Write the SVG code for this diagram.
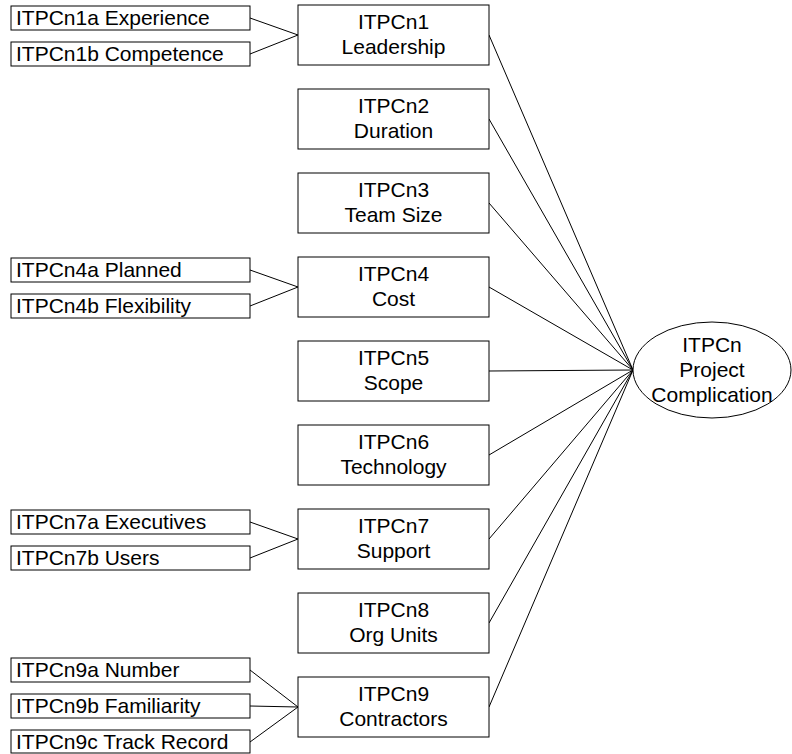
<svg xmlns="http://www.w3.org/2000/svg" width="792" height="754" viewBox="0 0 792 754">
<style>
rect{fill:#fff;stroke:#000;stroke-width:1}
ellipse{fill:#fff;stroke:#000;stroke-width:1}
line{stroke:#000;stroke-width:1}
text{font-family:"Liberation Sans",Arial,sans-serif;font-size:21px;fill:#000}
.c{text-anchor:middle}
</style>
<rect x="0" y="0" width="792" height="754" style="fill:#fff;stroke:none"/>
<g id="connectors">
<line x1="250" y1="18" x2="298" y2="35"/>
<line x1="250" y1="54" x2="298" y2="35"/>
<line x1="250" y1="270" x2="298" y2="287"/>
<line x1="250" y1="306" x2="298" y2="287"/>
<line x1="250" y1="522" x2="298" y2="539"/>
<line x1="250" y1="558" x2="298" y2="539"/>
<line x1="250" y1="670" x2="298" y2="707"/>
<line x1="250" y1="706" x2="298" y2="707"/>
<line x1="250" y1="742" x2="298" y2="707"/>
<line x1="489" y1="35" x2="633" y2="370"/>
<line x1="489" y1="119" x2="633" y2="370"/>
<line x1="489" y1="203" x2="633" y2="370"/>
<line x1="489" y1="287" x2="633" y2="370"/>
<line x1="489" y1="371" x2="633" y2="370"/>
<line x1="489" y1="455" x2="633" y2="370"/>
<line x1="489" y1="539" x2="633" y2="370"/>
<line x1="489" y1="623" x2="633" y2="370"/>
<line x1="489" y1="707" x2="633" y2="370"/>
</g>
<g id="n1a"><rect x="11" y="6" width="239" height="24"/><text x="16" y="25">ITPCn1a Experience</text></g>
<g id="n1b"><rect x="11" y="42" width="239" height="24"/><text x="16" y="61">ITPCn1b Competence</text></g>
<g id="n4a"><rect x="11" y="258" width="239" height="24"/><text x="16" y="277">ITPCn4a Planned</text></g>
<g id="n4b"><rect x="11" y="294" width="239" height="24"/><text x="16" y="313">ITPCn4b Flexibility</text></g>
<g id="n7a"><rect x="11" y="510" width="239" height="24"/><text x="16" y="529">ITPCn7a Executives</text></g>
<g id="n7b"><rect x="11" y="546" width="239" height="24"/><text x="16" y="565">ITPCn7b Users</text></g>
<g id="n9a"><rect x="11" y="658" width="239" height="24"/><text x="16" y="677">ITPCn9a Number</text></g>
<g id="n9b"><rect x="11" y="694" width="239" height="24"/><text x="16" y="713">ITPCn9b Familiarity</text></g>
<g id="n9c"><rect x="11" y="730" width="239" height="23"/><text x="16" y="749">ITPCn9c Track Record</text></g>
<g id="n1"><rect x="298" y="5" width="191" height="60"/><text class="c" x="393.5" y="29">ITPCn1</text><text class="c" x="393.5" y="54">Leadership</text></g>
<g id="n2"><rect x="298" y="89" width="191" height="60"/><text class="c" x="393.5" y="113">ITPCn2</text><text class="c" x="393.5" y="138">Duration</text></g>
<g id="n3"><rect x="298" y="173" width="191" height="60"/><text class="c" x="393.5" y="197">ITPCn3</text><text class="c" x="393.5" y="222">Team Size</text></g>
<g id="n4"><rect x="298" y="257" width="191" height="60"/><text class="c" x="393.5" y="281">ITPCn4</text><text class="c" x="393.5" y="306">Cost</text></g>
<g id="n5"><rect x="298" y="341" width="191" height="60"/><text class="c" x="393.5" y="365">ITPCn5</text><text class="c" x="393.5" y="390">Scope</text></g>
<g id="n6"><rect x="298" y="425" width="191" height="60"/><text class="c" x="393.5" y="449">ITPCn6</text><text class="c" x="393.5" y="474">Technology</text></g>
<g id="n7"><rect x="298" y="509" width="191" height="60"/><text class="c" x="393.5" y="533">ITPCn7</text><text class="c" x="393.5" y="558">Support</text></g>
<g id="n8"><rect x="298" y="593" width="191" height="60"/><text class="c" x="393.5" y="617">ITPCn8</text><text class="c" x="393.5" y="642">Org Units</text></g>
<g id="n9"><rect x="298" y="677" width="191" height="60"/><text class="c" x="393.5" y="701">ITPCn9</text><text class="c" x="393.5" y="726">Contractors</text></g>
<g id="n0"><ellipse cx="712" cy="370" rx="79" ry="48"/><text class="c" x="712" y="352">ITPCn</text><text class="c" x="712" y="377">Project</text><text class="c" x="712" y="402">Complication</text></g>
</svg>
